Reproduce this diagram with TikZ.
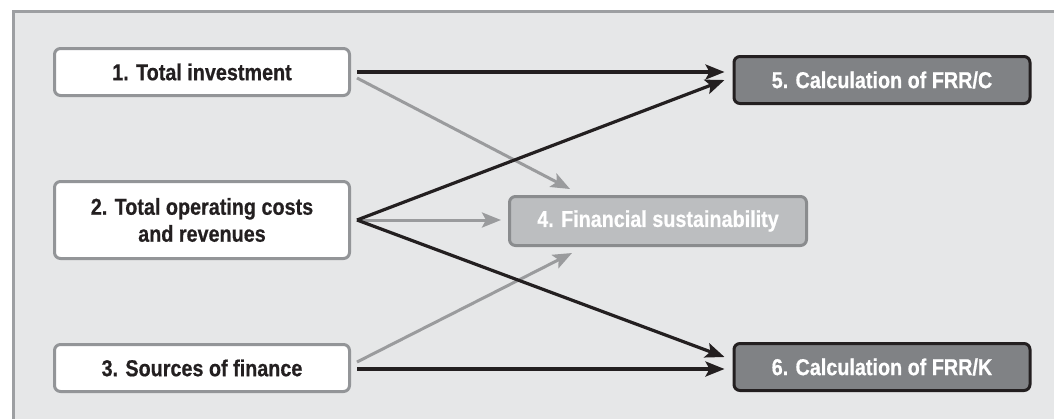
\documentclass[tikz,border=0pt]{standalone}
\usepackage{fontspec}
\setmainfont{Liberation Sans}[FakeStretch=0.86, BoldFeatures={FakeBold=0.6}]
\usetikzlibrary{arrows.meta,calc}
\definecolor{bgc}{HTML}{E6E7E8}
\definecolor{framec}{HTML}{9D9FA2}
\definecolor{txt}{HTML}{231F20}
\definecolor{lightbord}{HTML}{939598}
\definecolor{midfill}{HTML}{BCBEC0}
\definecolor{midbord}{HTML}{8A8C8E}
\definecolor{darkfill}{HTML}{808285}
\definecolor{grayarrow}{HTML}{9A9B9D}
\tikzset{
  box/.style={rounded corners=3pt, line width=1.5pt, minimum width=147.5pt,
    font=\fontsize{11.5}{13.5}\selectfont\bfseries, align=center, inner sep=0pt},
  inbox/.style={box, draw=lightbord, fill=white, text=txt, minimum height=23.5pt},
  midbox/.style={box, draw=midbord, fill=midfill, text=white, minimum height=24.5pt, minimum width=148.5pt},
  outbox/.style={box, draw=txt, fill=darkfill, text=white, minimum height=23.5pt, minimum width=148pt},
  blackarr/.style={draw=txt, line width=1.6pt, -{Stealth[length=9.5pt,width=7.5pt,inset=2pt]}},
  grayarr/.style={draw=grayarrow, line width=1.5pt, -{Stealth[length=9.5pt,width=7.5pt,inset=2pt]}},
}
\begin{document}
\begin{tikzpicture}[x=0.5pt,y=-0.5pt]
\useasboundingbox (0,0) rectangle (1054,419);
\fill[white] (0,0) rectangle (1054,419);
\fill[bgc] (13,11) rectangle (1054,419);
\draw[framec, line width=1.5pt] (13,419) -- (13,11) -- (1054,11);

\node[inbox] (n1) at (202,72) {1. Total investment};
\node[inbox, minimum height=38.5pt] (n2) at (202,220) {2. Total operating costs\\and revenues};
\node[inbox] (n3) at (202,368) {3. Sources of finance};
\node[midbox] (n4) at (658,221) {4. Financial sustainability};
\node[outbox] (n5) at (882,80) {5. Calculation of FRR/C};
\node[outbox] (n6) at (882,367) {6. Calculation of FRR/K};

\coordinate (s2) at ($(n2.east)+(6,0)$);

% gray arrows
\draw[grayarr] ($(n1.east)+(6,6)$) -- ($(n4.north west)+(62,-6)$);
\draw[grayarr] (s2) -- ($(n4.west)+(-7,-1)$);
\draw[grayarr] ($(n3.east)+(6,-6)$) -- ($(n4.south west)+(64,6)$);

% black arrows
\draw[blackarr] ($(n1.east)+(6,0)$) -- ($(n5.west)+(-8,-8)$);
\draw[blackarr] (s2) -- ($(n5.west)+(-8,0)$);
\draw[blackarr] (s2) -- ($(n6.west)+(-8,-10)$);
\draw[blackarr] ($(n3.east)+(6,1)$) -- ($(n6.west)+(-8,2)$);
\end{tikzpicture}
\end{document}
